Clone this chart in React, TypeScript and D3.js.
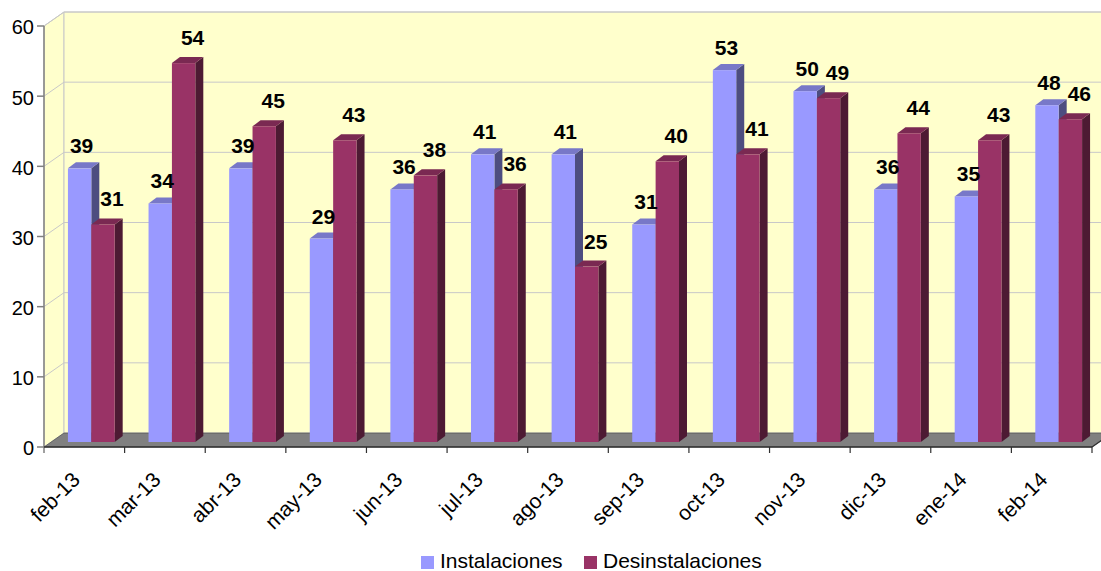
import { useEffect, useRef } from "react";
import * as d3 from "d3";

const categories = [
  "feb-13", "mar-13", "abr-13", "may-13", "jun-13", "jul-13", "ago-13",
  "sep-13", "oct-13", "nov-13", "dic-13", "ene-14", "feb-14",
];
const instalaciones = [39, 34, 39, 29, 36, 41, 41, 31, 53, 50, 36, 35, 48];
const desinstalaciones = [31, 54, 45, 43, 38, 36, 25, 40, 41, 49, 44, 43, 46];
const seriesNames = ["Instalaciones", "Desinstalaciones"];
const yTicks = [0, 10, 20, 30, 40, 50, 60];

const W = 1101;
const H = 571;
const FONT = "Arial, 'Liberation Sans', sans-serif";

// colours: front, top, side
const palette = [
  { front: "#9999FF", top: "#7878c8", side: "#4d4d80" },
  { front: "#993366", top: "#7a2952", side: "#4d1a33" },
];

export default function App() {
  const ref = useRef<SVGSVGElement>(null);

  useEffect(() => {
    const svg = d3.select(ref.current);
    svg.selectAll("*").remove();

    const x0 = 44;
    const x1 = 1092;
    const y = d3.scaleLinear().domain([0, 60]).range([447, 26]);
    const x = d3
      .scaleBand()
      .domain(categories)
      .range([x0, x1])
      .paddingInner(0.42)
      .paddingOuter(0.21);
    const xs = d3.scaleBand().domain(seriesNames).range([0, x.bandwidth()]);

    // depth offsets: wall, bar front plane, bar thickness
    const wd = { x: 20, y: -14 };
    const bf = { x: 7, y: -5 };
    const bd = { x: 8, y: -6 };

    const pts = (p: number[][]) => p.map((d) => d.join(",")).join(" ");

    // left side wall
    svg
      .append("polygon")
      .attr("points", pts([[x0, y(60)], [x0 + wd.x, y(60) + wd.y], [x0 + wd.x, y(0) + wd.y], [x0, y(0)]]))
      .attr("fill", "#FFFFCC")
      .attr("stroke", "#c8c8c8");
    // back wall
    svg
      .append("polygon")
      .attr("points", pts([[x0 + wd.x, y(60) + wd.y], [x1 + wd.x, y(60) + wd.y], [x1 + wd.x, y(0) + wd.y], [x0 + wd.x, y(0) + wd.y]]))
      .attr("fill", "#FFFFCC")
      .attr("stroke", "#c8c8c8");

    // gridlines
    const grid = svg.append("g").attr("stroke", "#c8c8c8").attr("fill", "none");
    yTicks.slice(1).forEach((v) => {
      grid
        .append("polyline")
        .attr("points", pts([[x0, y(v)], [x0 + wd.x, y(v) + wd.y], [x1 + wd.x, y(v) + wd.y]]));
    });

    // floor
    svg
      .append("polygon")
      .attr("points", pts([[x0, y(0)], [x1, y(0)], [x1 + wd.x, y(0) + wd.y], [x0 + wd.x, y(0) + wd.y]]))
      .attr("fill", "#808080")
      .attr("stroke", "#404040")
      .attr("stroke-width", 0.6);

    // bars
    const values = [instalaciones, desinstalaciones];
    const bars = svg.append("g");
    categories.forEach((c, i) => {
      values.forEach((vals, s) => {
        const v = vals[i];
        const bx = (x(c) as number) + (xs(seriesNames[s]) as number) + bf.x;
        const bw = xs.bandwidth();
        const yt = y(v) + bf.y;
        const yb = y(0) + bf.y;
        const col = palette[s];
        bars
          .append("polygon")
          .attr("points", pts([[bx + bw, yt], [bx + bw + bd.x, yt + bd.y], [bx + bw + bd.x, yb + bd.y], [bx + bw, yb]]))
          .attr("fill", col.side);
        bars
          .append("polygon")
          .attr("points", pts([[bx, yt], [bx + bd.x, yt + bd.y], [bx + bw + bd.x, yt + bd.y], [bx + bw, yt]]))
          .attr("fill", col.top);
        bars
          .append("rect")
          .attr("x", bx)
          .attr("y", yt)
          .attr("width", bw)
          .attr("height", yb - yt)
          .attr("fill", col.front);
      });
    });

    // value labels
    const labels = svg
      .append("g")
      .attr("font-family", FONT)
      .attr("font-weight", "bold")
      .attr("font-size", 21)
      .attr("text-anchor", "middle")
      .attr("fill", "#000");
    categories.forEach((c, i) => {
      values.forEach((vals, s) => {
        const v = vals[i];
        const bx = (x(c) as number) + (xs(seriesNames[s]) as number) + bf.x;
        const cx = bx + xs.bandwidth() / 2 + (s === 0 ? 2 : 9);
        labels
          .append("text")
          .attr("x", cx)
          .attr("y", y(v) + bf.y - (s === 0 ? 15 : 18))
          .text(v);
      });
    });

    // y axis
    const ax = svg.append("g").attr("font-family", FONT);
    ax.append("line")
      .attr("x1", x0).attr("x2", x0)
      .attr("y1", y(60)).attr("y2", y(0) + 6)
      .attr("stroke", "#808080").attr("stroke-width", 1.5);
    yTicks.forEach((v) => {
      ax.append("line")
        .attr("x1", x0 - 7).attr("x2", x0)
        .attr("y1", y(v)).attr("y2", y(v))
        .attr("stroke", "#808080").attr("stroke-width", 1.5);
      ax.append("text")
        .attr("x", x0 - 10)
        .attr("y", y(v))
        .attr("dy", "0.42em")
        .attr("text-anchor", "end")
        .attr("font-size", 20)
        .text(v);
    });

    // x axis
    ax.append("line")
      .attr("x1", x0).attr("x2", x1)
      .attr("y1", y(0)).attr("y2", y(0))
      .attr("stroke", "#303030").attr("stroke-width", 1.5);
    ax.append("line")
      .attr("x1", x1).attr("x2", x1 + wd.x)
      .attr("y1", y(0)).attr("y2", y(0) + wd.y)
      .attr("stroke", "#303030").attr("stroke-width", 1.2);
    categories.forEach((c) => {
      const xe = (x(c) as number) + x.bandwidth() + x.step() * 0.21;
      ax.append("line")
        .attr("x1", xe).attr("x2", xe)
        .attr("y1", y(0)).attr("y2", y(0) + 6)
        .attr("stroke", "#303030").attr("stroke-width", 1.2);
      const cx = (x(c) as number) + x.bandwidth() / 2;
      ax.append("text")
        .attr("transform", `translate(${cx - 3},${y(0) + 34}) rotate(-45)`)
        .attr("text-anchor", "end")
        .attr("font-size", 21)
        .text(c);
    });

    // legend
    const lg = svg.append("g").attr("font-family", FONT).attr("font-size", 21);
    const lx = [421, 584];
    seriesNames.forEach((n, s) => {
      lg.append("rect")
        .attr("x", lx[s]).attr("y", 556)
        .attr("width", 13).attr("height", 13)
        .attr("fill", palette[s].front);
      lg.append("text")
        .attr("x", lx[s] + 19)
        .attr("y", 568)
        .text(n);
    });
  }, []);

  return (
    <div style={{ position: "fixed", left: 0, top: 0 }}>
      <svg ref={ref} width={W} height={H} style={{ display: "block", background: "#fff" }} />
    </div>
  );
}
